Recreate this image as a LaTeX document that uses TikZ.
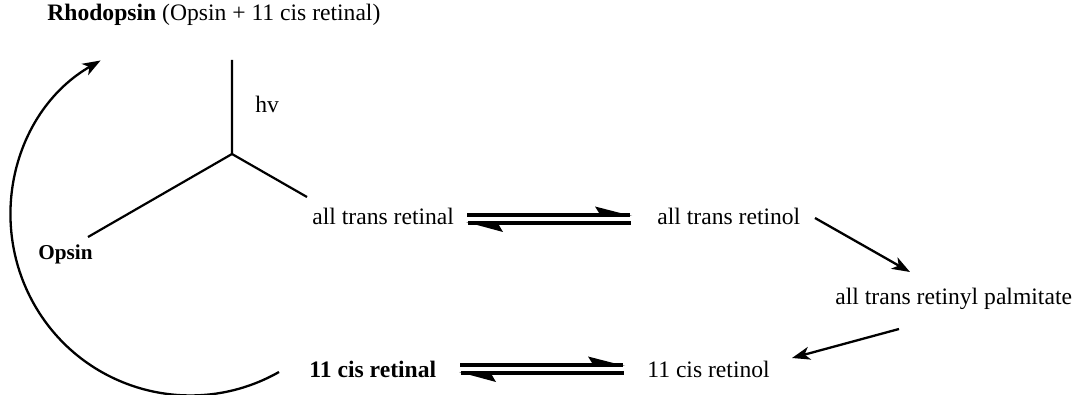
\documentclass[tikz,border=0pt]{standalone}
\usepackage{fontspec}
\setmainfont{Liberation Serif}
\usetikzlibrary{arrows.meta}
\begin{document}
\begin{tikzpicture}[x=0.5pt,y=-0.5pt,
  lbl/.style={anchor=base west,inner sep=0pt,font=\fontsize{11.8}{14}\selectfont},
  blbl/.style={lbl,font=\fontsize{11.8}{14}\selectfont\bfseries},
  slbl/.style={anchor=base west,inner sep=0pt,font=\fontsize{10.6}{13}\selectfont\bfseries},
  conn/.style={line width=1.15pt,-{Stealth[length=9pt,width=6.5pt,inset=2.5pt]}},
  eq/.style={line width=1.6pt},
  barb/.style={fill=black}]
\useasboundingbox (0,0) rectangle (1082,395);

% labels
\node[lbl] (rho) at (47,21) {\textbf{Rhodopsin} (Opsin + 11 cis retinal)};
\node[lbl] (hv) at (255,113) {hv};
\node[slbl] (opsin) at (38,260) {Opsin};
\node[lbl] (atral) at (312,225) {all trans retinal};
\node[lbl] (atrol) at (657,225) {all trans retinol};
\node[lbl] (palm) at (835,305) {all trans retinyl palmitate};
\node[blbl] (cral) at (309,378) {11 cis retinal};
\node[lbl] (crol) at (647,378) {11 cis retinol};

% Y-shaped splitting
\coordinate (ytop) at (232,60);
\coordinate (yj) at (232,154);
\coordinate (yl) at (88,237);
\coordinate (yr) at (307,197);
\draw[line width=1.1pt] (ytop) -- (yj) -- (yl);
\draw[line width=1.1pt] (yj) -- (yr);

% top equilibrium
\coordinate (t1a) at (467,215); \coordinate (t1b) at (630,215);
\coordinate (t2a) at (468,223); \coordinate (t2b) at (631,223);
\draw[eq] (t1a) -- (t1b);
\draw[eq] (t2a) -- (t2b);
\fill[barb] (632,216) -- (595,206.5) -- (600,214.5) -- cycle;
\fill[barb] (466,222) -- (503,232) -- (498,223.5) -- cycle;

% bottom equilibrium
\coordinate (b1a) at (460,365); \coordinate (b1b) at (623,365);
\coordinate (b2a) at (461,373); \coordinate (b2b) at (624,373);
\draw[eq] (b1a) -- (b1b);
\draw[eq] (b2a) -- (b2b);
\fill[barb] (625,366) -- (588,356.5) -- (593,364.5) -- cycle;
\fill[barb] (459,372) -- (496,382) -- (491,373.5) -- cycle;

% single arrows
\coordinate (r1s) at (815,218); \coordinate (r1e) at (910,272);
\coordinate (r2s) at (899,329); \coordinate (r2e) at (792,358);
\draw[conn] (r1s) -- (r1e);
\draw[conn] (r2s) -- (r2e);

% big return arc
\coordinate (arcs) at (279,372);
\draw[conn] (arcs) arc[start angle=60.4, end angle=240, radius=179.5];
\end{tikzpicture}
\end{document}
